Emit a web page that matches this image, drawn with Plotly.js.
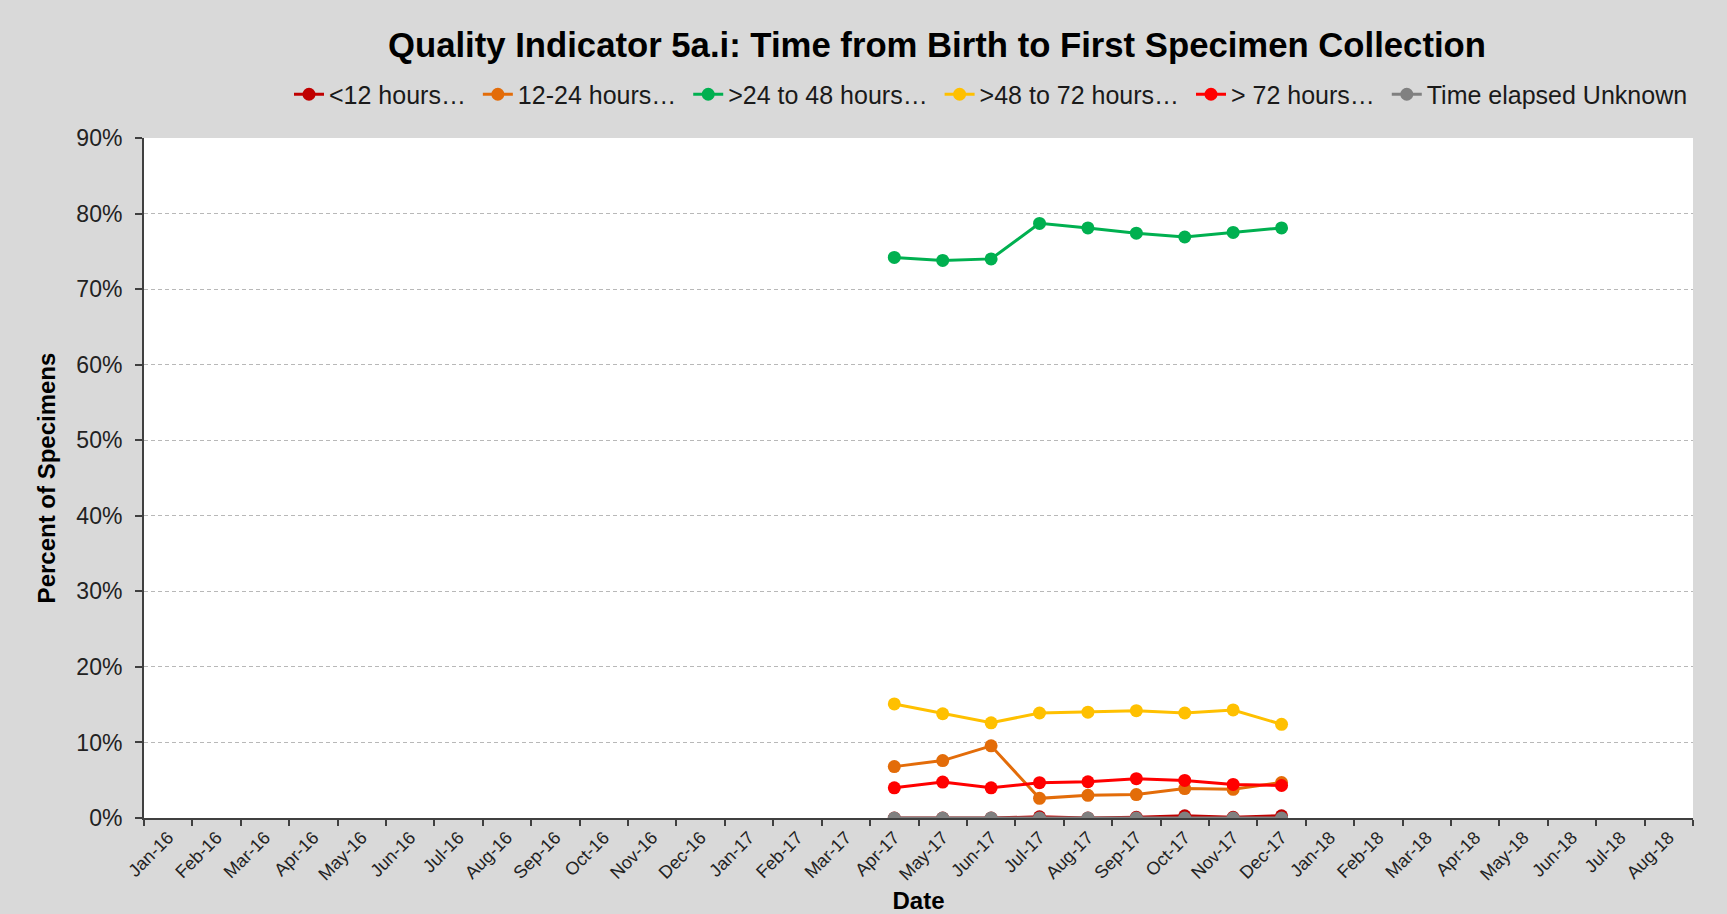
<!DOCTYPE html>
<html>
<head>
<meta charset="utf-8">
<script src="https://cdn.plot.ly/plotly-3.0.1.min.js"></script>
<style>html,body{margin:0;padding:0;background:#d9d9d9;}#chart{width:1727px;height:914px;}</style>
</head>
<body>
<div id="chart"></div>
<script>
const months = ["Jan-16","Feb-16","Mar-16","Apr-16","May-16","Jun-16","Jul-16","Aug-16","Sep-16","Oct-16","Nov-16","Dec-16",
  "Jan-17","Feb-17","Mar-17","Apr-17","May-17","Jun-17","Jul-17","Aug-17","Sep-17","Oct-17","Nov-17","Dec-17",
  "Jan-18","Feb-18","Mar-18","Apr-18","May-18","Jun-18","Jul-18","Aug-18"];
const dataMonths = ["Apr-17","May-17","Jun-17","Jul-17","Aug-17","Sep-17","Oct-17","Nov-17","Dec-17"];
const seriesNames = ["<12 hours…","12-24 hours…",">24 to 48 hours…",">48 to 72 hours…","> 72 hours…","Time elapsed Unknown"];
const seriesColors = ["#C00000","#E36C09","#00B050","#FFC000","#FF0000","#808080"];
const under12 = [0.000, 0.000, 0.000, 0.0015, 0.000, 0.001, 0.003, 0.001, 0.003];
const h12to24 = [0.068, 0.076, 0.0955, 0.026, 0.030, 0.031, 0.039, 0.038, 0.047];
const h24to48 = [0.742, 0.738, 0.740, 0.787, 0.781, 0.774, 0.769, 0.775, 0.781];
const h48to72 = [0.151, 0.138, 0.126, 0.139, 0.140, 0.142, 0.139, 0.143, 0.124];
const over72 = [0.040, 0.0475, 0.040, 0.0467, 0.048, 0.052, 0.0497, 0.0444, 0.043];
const unknown = [0.000, 0.000, 0.000, 0.000, 0.000, 0.000, 0.000, 0.000, 0.000];
const seriesValues = [under12, h12to24, h24to48, h48to72, over72, unknown];

const FONT = "Liberation Sans, Arial, sans-serif";
const traces = seriesNames.map((name, i) => ({
  type: "scatter",
  mode: "lines+markers",
  name: i < seriesNames.length - 1 ? name + "\u00a0" : name,
  x: dataMonths,
  y: seriesValues[i],
  line: {color: seriesColors[i], width: 3},
  marker: {color: seriesColors[i], size: 13},
  hoverinfo: "x+y+name"
}));

const layout = {
  width: 1727, height: 914,
  paper_bgcolor: "#d9d9d9",
  plot_bgcolor: "#ffffff",
  margin: {l: 144, r: 34, t: 138, b: 96},
  font: {family: FONT, color: "#000"},
  title: {
    text: "<b>Quality Indicator 5a.i: Time from Birth to First Specimen Collection</b>",
    font: {family: FONT, size: 34.7, color: "#000"},
    x: 937/1727, xanchor: "center", xref: "container",
    y: 1 - 45/914, yanchor: "middle", yref: "container"
  },
  showlegend: true,
  legend: {
    orientation: "h",
    x: 1, xanchor: "right", xref: "paper",
    y: 1.064, yanchor: "middle", yref: "paper",
    font: {family: FONT, size: 25, color: "#1a1a1a"},
    bgcolor: "rgba(0,0,0,0)",
    itemwidth: 30,
    traceorder: "normal"
  },
  xaxis: {
    type: "category",
    categoryorder: "array",
    categoryarray: months,
    tickvals: months,
    ticktext: months,
    range: [-0.5, months.length - 0.5],
    tickson: "boundaries",
    ticks: "outside", ticklen: 6, tickcolor: "#404040", tickwidth: 1.5,
    showline: true, linecolor: "#404040", linewidth: 2,
    showgrid: false,
    tickangle: -45,
    tickfont: {family: FONT, size: 18, color: "#222"},
    title: {text: "<b>Date</b>", font: {family: FONT, size: 24, color: "#000"}, standoff: 10},
    zeroline: false
  },
  yaxis: {
    range: [0, 0.9],
    dtick: 0.1, tick0: 0,
    tickformat: ".0%",
    ticks: "outside", ticklen: 7, tickcolor: "#404040", tickwidth: 1.5,
    ticklabelstandoff: 8,
    showline: true, linecolor: "#404040", linewidth: 2,
    showgrid: true, gridcolor: "#b8b8b8", griddash: "4px,3px", gridwidth: 1,
    zeroline: false,
    tickfont: {family: FONT, size: 23, color: "#222"},
    title: {text: "<b>Percent of Specimens</b>", font: {family: FONT, size: 24, color: "#000"}, standoff: 14}
  }
};

Plotly.newPlot("chart", traces, layout, {displayModeBar: false, responsive: false});
</script>
</body>
</html>
